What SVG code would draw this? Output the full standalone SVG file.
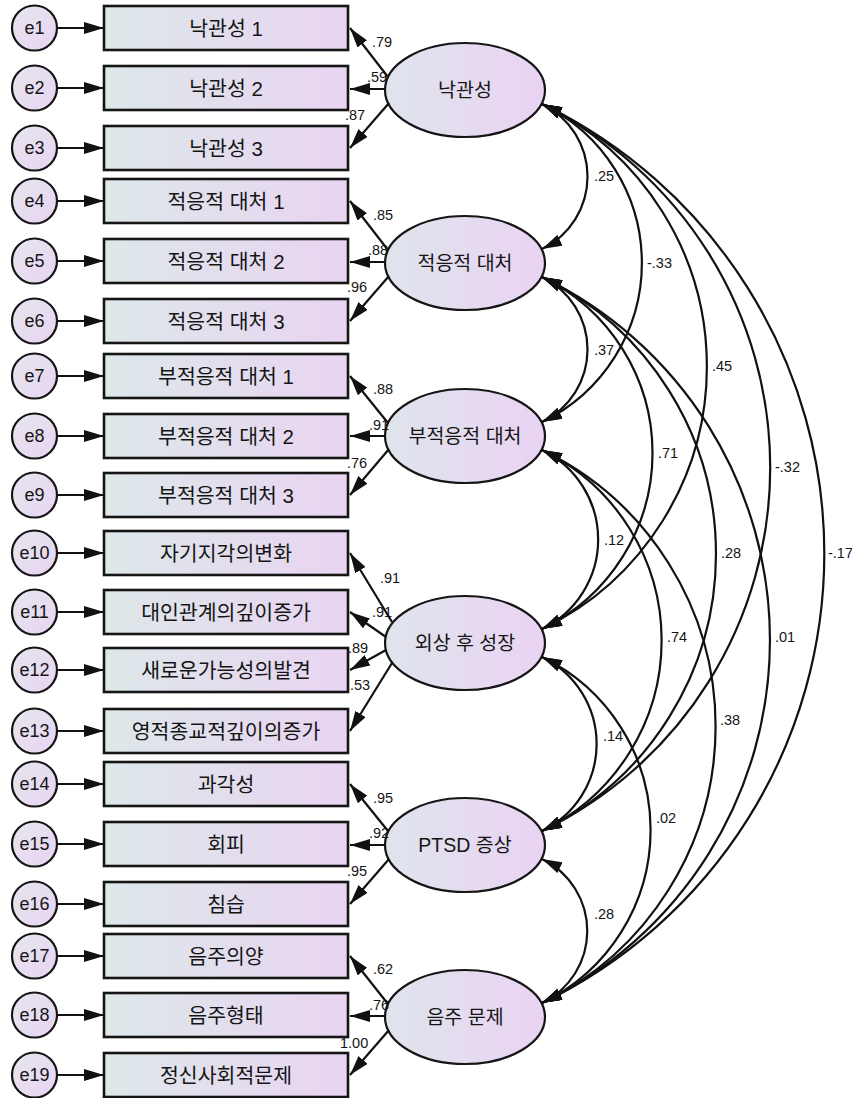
<svg xmlns="http://www.w3.org/2000/svg" width="852" height="1098" viewBox="0 0 852 1098">
<defs>
<linearGradient id="gBox" x1="0" y1="0" x2="1" y2="0"><stop offset="0" stop-color="#dde8e9"/><stop offset="1" stop-color="#e9d4f2"/></linearGradient>
<linearGradient id="gLat" x1="0" y1="0" x2="1" y2="0"><stop offset="0" stop-color="#dfe4ec"/><stop offset="1" stop-color="#ead3f3"/></linearGradient>
<linearGradient id="gErr" x1="0" y1="0" x2="1" y2="1"><stop offset="0" stop-color="#e6e6ee"/><stop offset="1" stop-color="#e8d4f2"/></linearGradient>
<marker id="ah" viewBox="0 0 20 12" refX="20" refY="6" markerWidth="20" markerHeight="12" markerUnits="userSpaceOnUse" orient="auto-start-reverse"><path d="M0,0 L20,6 L0,12 z" fill="#111"/></marker>
<style>
.box{fill:url(#gBox);stroke:#151515;stroke-width:2.6}
.lat{fill:url(#gLat);stroke:#151515;stroke-width:2.2}
.err{fill:url(#gErr);stroke:#151515;stroke-width:2.2}
text{font-family:"Liberation Sans","Noto Sans CJK KR",sans-serif;fill:#151515}
.bt{font-size:20.5px;text-anchor:middle;dominant-baseline:central}
.lt{font-size:19.5px;text-anchor:middle;dominant-baseline:central}
.et{font-size:18px;text-anchor:middle;dominant-baseline:central}
.n{font-size:14.5px;dominant-baseline:central}
.arr{stroke:#111;stroke-width:2.2;fill:none;marker-end:url(#ah)}
.cov{stroke:#111;stroke-width:2.2;fill:none;marker-start:url(#ah);marker-end:url(#ah)}
</style>
</defs>
<rect width="852" height="1098" fill="#fff"/>

<g id="errors">
<g id="e1"><circle class="err" cx="34.5" cy="28" r="22.5"/><text class="et" x="34.5" y="28">e1</text></g>
<g id="e2"><circle class="err" cx="34.5" cy="88" r="22.5"/><text class="et" x="34.5" y="88">e2</text></g>
<g id="e3"><circle class="err" cx="34.5" cy="148" r="22.5"/><text class="et" x="34.5" y="148">e3</text></g>
<g id="e4"><circle class="err" cx="34.5" cy="201" r="22.5"/><text class="et" x="34.5" y="201">e4</text></g>
<g id="e5"><circle class="err" cx="34.5" cy="261" r="22.5"/><text class="et" x="34.5" y="261">e5</text></g>
<g id="e6"><circle class="err" cx="34.5" cy="321" r="22.5"/><text class="et" x="34.5" y="321">e6</text></g>
<g id="e7"><circle class="err" cx="34.5" cy="376" r="22.5"/><text class="et" x="34.5" y="376">e7</text></g>
<g id="e8"><circle class="err" cx="34.5" cy="436" r="22.5"/><text class="et" x="34.5" y="436">e8</text></g>
<g id="e9"><circle class="err" cx="34.5" cy="495" r="22.5"/><text class="et" x="34.5" y="495">e9</text></g>
<g id="e10"><circle class="err" cx="34.5" cy="553" r="22.5"/><text class="et" x="34.5" y="553">e10</text></g>
<g id="e11"><circle class="err" cx="34.5" cy="612" r="22.5"/><text class="et" x="34.5" y="612">e11</text></g>
<g id="e12"><circle class="err" cx="34.5" cy="670" r="22.5"/><text class="et" x="34.5" y="670">e12</text></g>
<g id="e13"><circle class="err" cx="34.5" cy="731" r="22.5"/><text class="et" x="34.5" y="731">e13</text></g>
<g id="e14"><circle class="err" cx="34.5" cy="784" r="22.5"/><text class="et" x="34.5" y="784">e14</text></g>
<g id="e15"><circle class="err" cx="34.5" cy="844" r="22.5"/><text class="et" x="34.5" y="844">e15</text></g>
<g id="e16"><circle class="err" cx="34.5" cy="904" r="22.5"/><text class="et" x="34.5" y="904">e16</text></g>
<g id="e17"><circle class="err" cx="34.5" cy="956" r="22.5"/><text class="et" x="34.5" y="956">e17</text></g>
<g id="e18"><circle class="err" cx="34.5" cy="1015" r="22.5"/><text class="et" x="34.5" y="1015">e18</text></g>
<g id="e19"><circle class="err" cx="34.5" cy="1075" r="22.5"/><text class="et" x="34.5" y="1075">e19</text></g>
</g>

<g id="indicators">
<g id="x1"><rect class="box" x="104" y="6" width="244" height="44"/><text class="bt" x="226" y="28">낙관성 1</text></g>
<g id="x2"><rect class="box" x="104" y="66" width="244" height="44"/><text class="bt" x="226" y="88">낙관성 2</text></g>
<g id="x3"><rect class="box" x="104" y="126" width="244" height="44"/><text class="bt" x="226" y="148">낙관성 3</text></g>
<g id="x4"><rect class="box" x="104" y="179" width="244" height="44"/><text class="bt" x="226" y="201">적응적 대처 1</text></g>
<g id="x5"><rect class="box" x="104" y="239" width="244" height="44"/><text class="bt" x="226" y="261">적응적 대처 2</text></g>
<g id="x6"><rect class="box" x="104" y="299" width="244" height="44"/><text class="bt" x="226" y="321">적응적 대처 3</text></g>
<g id="x7"><rect class="box" x="104" y="354" width="244" height="44"/><text class="bt" x="226" y="376">부적응적 대처 1</text></g>
<g id="x8"><rect class="box" x="104" y="414" width="244" height="44"/><text class="bt" x="226" y="436">부적응적 대처 2</text></g>
<g id="x9"><rect class="box" x="104" y="473" width="244" height="44"/><text class="bt" x="226" y="495">부적응적 대처 3</text></g>
<g id="x10"><rect class="box" x="104" y="531" width="244" height="44"/><text class="bt" x="226" y="553">자기지각의변화</text></g>
<g id="x11"><rect class="box" x="104" y="590" width="244" height="44"/><text class="bt" x="226" y="612">대인관계의깊이증가</text></g>
<g id="x12"><rect class="box" x="104" y="648" width="244" height="44"/><text class="bt" x="226" y="670">새로운가능성의발견</text></g>
<g id="x13"><rect class="box" x="104" y="709" width="244" height="44"/><text class="bt" x="226" y="731">영적종교적깊이의증가</text></g>
<g id="x14"><rect class="box" x="104" y="762" width="244" height="44"/><text class="bt" x="226" y="784">과각성</text></g>
<g id="x15"><rect class="box" x="104" y="822" width="244" height="44"/><text class="bt" x="226" y="844">회피</text></g>
<g id="x16"><rect class="box" x="104" y="882" width="244" height="44"/><text class="bt" x="226" y="904">침습</text></g>
<g id="x17"><rect class="box" x="104" y="934" width="244" height="44"/><text class="bt" x="226" y="956">음주의양</text></g>
<g id="x18"><rect class="box" x="104" y="993" width="244" height="44"/><text class="bt" x="226" y="1015">음주형태</text></g>
<g id="x19"><rect class="box" x="104" y="1053" width="244" height="44"/><text class="bt" x="226" y="1075">정신사회적문제</text></g>
</g>

<g id="latents">
<g id="L1"><ellipse class="lat" cx="465" cy="90" rx="80" ry="47"/><text class="lt" x="465" y="90">낙관성</text></g>
<g id="L2"><ellipse class="lat" cx="465" cy="263" rx="80" ry="47"/><text class="lt" x="465" y="263">적응적 대처</text></g>
<g id="L3"><ellipse class="lat" cx="465" cy="436" rx="80" ry="47"/><text class="lt" x="465" y="436">부적응적 대처</text></g>
<g id="L4"><ellipse class="lat" cx="465" cy="643" rx="80" ry="47"/><text class="lt" x="465" y="643">외상 후 성장</text></g>
<g id="L5"><ellipse class="lat" cx="465" cy="845" rx="80" ry="47"/><text class="lt" x="465" y="845">PTSD 증상</text></g>
<g id="L6"><ellipse class="lat" cx="465" cy="1017" rx="80" ry="47"/><text class="lt" x="465" y="1017">음주 문제</text></g>
</g>

<g id="connectors">
<g id="error-paths">
<path class="arr" d="M57,28H104"/><path class="arr" d="M57,88H104"/><path class="arr" d="M57,148H104"/>
<path class="arr" d="M57,201H104"/><path class="arr" d="M57,261H104"/><path class="arr" d="M57,321H104"/>
<path class="arr" d="M57,376H104"/><path class="arr" d="M57,436H104"/><path class="arr" d="M57,495H104"/>
<path class="arr" d="M57,553H104"/><path class="arr" d="M57,612H104"/><path class="arr" d="M57,670H104"/>
<path class="arr" d="M57,731H104"/><path class="arr" d="M57,784H104"/><path class="arr" d="M57,844H104"/>
<path class="arr" d="M57,904H104"/><path class="arr" d="M57,956H104"/><path class="arr" d="M57,1015H104"/>
<path class="arr" d="M57,1075H104"/>
</g>
<g id="loadings">
<path class="arr" d="M388,77L350,28"/><path class="arr" d="M385,89H350"/><path class="arr" d="M389,103L350,148"/>
<path class="arr" d="M388,250L350,201"/><path class="arr" d="M385,262H350"/><path class="arr" d="M389,276L350,321"/>
<path class="arr" d="M388,423L350,376"/><path class="arr" d="M385,436H350"/><path class="arr" d="M389,449L350,495"/>
<path class="arr" d="M392,622L350,553"/><path class="arr" d="M386,637L350,612"/><path class="arr" d="M386,650L350,670"/><path class="arr" d="M392,663L350,731"/>
<path class="arr" d="M388,831L350,784"/><path class="arr" d="M385,845H350"/><path class="arr" d="M389,859L350,904"/>
<path class="arr" d="M388,1004L350,956"/><path class="arr" d="M385,1016H350"/><path class="arr" d="M389,1030L350,1075"/>
</g>
<g id="covariances">
<path class="cov" d="M542,104A80.5,80.5 0 0 1 542,249"/>
<path class="cov" d="M542,104A176.5,176.5 0 0 1 542,422"/>
<path class="cov" d="M542,104A291.4,291.4 0 0 1 542,629"/>
<path class="cov" d="M542,104A403.6,403.6 0 0 1 542,831"/>
<path class="cov" d="M542,104A499,499 0 0 1 542,1003"/>
<path class="cov" d="M542,277A80.5,80.5 0 0 1 542,422"/>
<path class="cov" d="M542,277A195.4,195.4 0 0 1 542,629"/>
<path class="cov" d="M542,277A307.5,307.5 0 0 1 542,831"/>
<path class="cov" d="M542,277A403,403 0 0 1 542,1003"/>
<path class="cov" d="M542,450A99.4,99.4 0 0 1 542,629"/>
<path class="cov" d="M542,450A211.5,211.5 0 0 1 542,831"/>
<path class="cov" d="M542,450A307,307 0 0 1 542,1003"/>
<path class="cov" d="M542,657A96.6,96.6 0 0 1 542,831"/>
<path class="cov" d="M542,657A192.1,192.1 0 0 1 542,1003"/>
<path class="cov" d="M542,859A79.9,79.9 0 0 1 542,1003"/>
</g>
<g id="labels">
<text class="n" x="372" y="42">.79</text><text class="n" x="367" y="77">.59</text><text class="n" x="345" y="115">.87</text>
<text class="n" x="373" y="215">.85</text><text class="n" x="368" y="250">.88</text><text class="n" x="347" y="287">.96</text>
<text class="n" x="373" y="389">.88</text><text class="n" x="369" y="425">.91</text><text class="n" x="347" y="463">.76</text>
<text class="n" x="380" y="578">.91</text><text class="n" x="372" y="612">.91</text><text class="n" x="348" y="648">.89</text><text class="n" x="350" y="685">.53</text>
<text class="n" x="373" y="798">.95</text><text class="n" x="369" y="833">.92</text><text class="n" x="347" y="871">.95</text>
<text class="n" x="373" y="969">.62</text><text class="n" x="369" y="1005">.76</text><text class="n" x="340" y="1043">1.00</text>
<text class="n" x="594" y="176">.25</text>
<text class="n" x="647" y="263">-.33</text>
<text class="n" x="712" y="366">.45</text>
<text class="n" x="775" y="467">-.32</text>
<text class="n" x="828" y="553">-.17</text>
<text class="n" x="594" y="350">.37</text>
<text class="n" x="658" y="453">.71</text>
<text class="n" x="721" y="553">.28</text>
<text class="n" x="775" y="637">.01</text>
<text class="n" x="604" y="540">.12</text>
<text class="n" x="667" y="637">.74</text>
<text class="n" x="720" y="720">.38</text>
<text class="n" x="603" y="736">.14</text>
<text class="n" x="656" y="818">.02</text>
<text class="n" x="594" y="914">.28</text>
</g>
</g>
</svg>
